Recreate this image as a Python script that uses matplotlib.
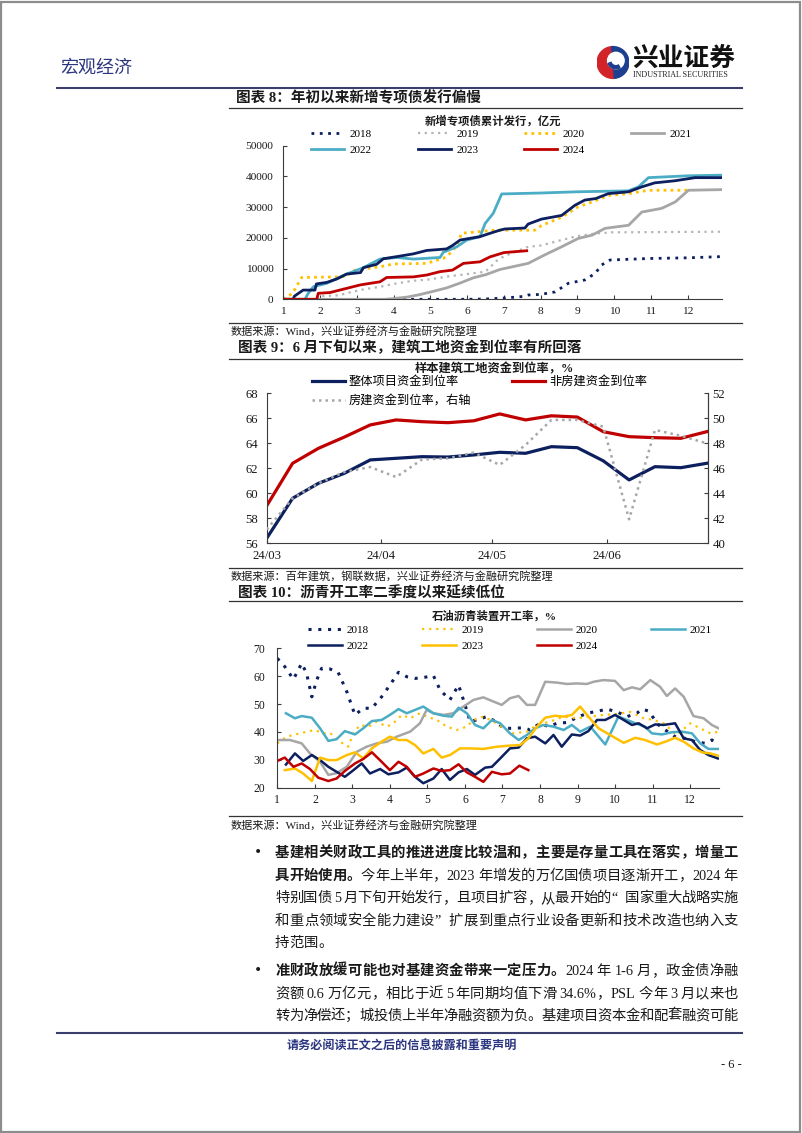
import matplotlib
matplotlib.use("Agg")
import matplotlib.pyplot as plt
import matplotlib.dates as mdates
from matplotlib.lines import Line2D
from matplotlib.patches import Wedge, Circle, Rectangle
import pandas as pd

plt.rcParams['font.family'] = ['Liberation Serif', 'Noto Sans CJK SC']
plt.rcParams['axes.unicode_minus'] = False

W, H = 802, 1133

NAVY = '#0c1f5e'
RED = '#c00000'
TEAL = '#4bacc6'
GOLD = '#ffc000'
GRAY = '#a6a6a6'
LGRAY = '#b4b4b4'
INK = '#1a1a1a'

# ---------------- chart 8: special bonds, cumulative (month position, 100m yuan)
zxz_2018_m = [3.8, 5.0, 6.0, 6.5, 7.0, 7.5, 7.66, 8.0, 8.39, 8.75, 9.2, 9.48, 9.66, 9.89, 11.0, 12.0, 12.92]
zxz_2018_v = [0, 0, 0, 100, 400, 900, 1400, 1600, 2400, 5200, 6300, 8400, 11200, 12800, 13300, 13500, 13900]
zxz_2019_m = [1.0, 1.9, 2.0, 2.5, 2.9, 3.2, 3.6, 4.0, 4.5, 5.0, 5.5, 6.0, 6.5, 6.8, 7.0, 7.66, 8.0, 8.57, 8.93, 9.48, 9.93, 12.92]
zxz_2019_v = [0, 0, 1000, 1300, 2500, 3300, 4000, 5000, 6000, 6500, 7500, 8200, 9000, 12500, 14000, 17100, 17500, 19300, 20400, 21400, 21800, 22000]
zxz_2020_m = [1.0, 1.25, 1.5, 2.6, 2.83, 2.92, 3.63, 4.0, 4.9, 5.2, 5.35, 5.53, 5.7, 5.85, 6.76, 7.84, 8.02, 8.57, 9.02, 9.4, 9.84, 10.39, 10.93, 12.02]
zxz_2020_v = [0, 1950, 7100, 7300, 8400, 9400, 10600, 11500, 11700, 12800, 13300, 14900, 17100, 21500, 22500, 22500, 24000, 26700, 30100, 31700, 33800, 34400, 35500, 35500]
zxz_2021_m = [1.0, 3.81, 4.36, 4.7, 5.08, 5.44, 5.81, 6.17, 6.5, 6.89, 7.66, 8.1, 8.57, 9.02, 9.4, 9.75, 10.39, 10.75, 11.29, 11.66, 12.02, 12.92]
zxz_2021_v = [0, 0, 700, 1500, 2600, 3700, 5300, 7000, 8000, 9700, 11700, 14400, 17100, 19800, 20900, 23100, 24100, 28400, 29600, 31700, 35500, 35700]
zxz_2022_m = [1.0, 1.59, 1.68, 1.82, 2.18, 2.72, 3.18, 3.63, 4.09, 4.54, 5.26, 5.35, 5.72, 5.99, 6.35, 6.49, 6.71, 6.94, 8.0, 9.0, 10.39, 10.66, 10.93, 12.0, 12.92]
zxz_2022_v = [0, 0, 2000, 4100, 5200, 8200, 10300, 13100, 13600, 13100, 13600, 15300, 17100, 19300, 20400, 24700, 28000, 34300, 34600, 35000, 35300, 36600, 39600, 40200, 40400]
zxz_2023_m = [1.0, 1.27, 1.3, 1.54, 1.86, 1.9, 2.18, 2.45, 2.72, 3.1, 3.18, 3.54, 3.72, 4.09, 4.54, 4.9, 5.44, 5.6, 5.81, 6.35, 6.6, 6.89, 7.03, 7.57, 7.66, 8.02, 8.57, 8.93, 9.2, 9.5, 9.84, 10.39, 10.75, 11.1, 11.66, 12.2, 12.92]
zxz_2023_v = [0, 0, 1000, 3000, 3000, 5000, 5500, 6600, 8200, 8700, 10300, 11400, 13200, 13900, 14800, 15900, 16400, 17500, 19300, 20400, 21400, 22500, 22900, 23200, 24500, 26100, 27300, 30600, 32300, 32800, 34400, 35000, 36600, 37900, 38600, 39600, 39600]
zxz_2024_m = [1.0, 1.91, 1.95, 2.27, 2.9, 3.1, 3.63, 3.81, 4.54, 4.9, 5.26, 5.6, 5.9, 6.35, 6.62, 6.89, 7.0, 7.3, 7.62]
zxz_2024_v = [0, 0, 1950, 2200, 4100, 4700, 5700, 7100, 7300, 7900, 9000, 9500, 11700, 12200, 13800, 14800, 15200, 15500, 15800]

# ---------------- chart 9: construction site funding rate (%)
site_dates = ["2024-03-01", "2024-03-08", "2024-03-15", "2024-03-22", "2024-03-29", "2024-04-05",
              "2024-04-12", "2024-04-19", "2024-04-26", "2024-05-03", "2024-05-10", "2024-05-17",
              "2024-05-24", "2024-05-31", "2024-06-07", "2024-06-14", "2024-06-21", "2024-06-28"]
site_total = [56.4, 59.6, 60.8, 61.6, 62.67, 62.8, 62.93, 62.9, 63.07, 63.28, 63.2, 63.73, 63.65, 62.6, 61.07, 62.13, 62.05, 62.4]
site_nonhouse = [59.0, 62.4, 63.6, 64.5, 65.47, 65.87, 65.73, 65.65, 65.8, 66.35, 65.87, 66.2, 66.1, 64.93, 64.53, 64.45, 64.4, 64.93]
site_house = [41.1, 43.6, 44.8, 45.7, 46.1, 45.3, 46.7, 46.8, 47.25, 46.27, 47.87, 49.87, 49.87, 49.33, 41.92, 49.07, 48.6, 48.0]

# ---------------- chart 10: asphalt plant operating rate (%)
asp_2018_m = [1.00, 1.20, 1.43, 1.65, 1.78, 1.92, 2.05, 2.18, 2.40, 2.62, 2.85, 3.07, 3.29, 3.52, 3.78, 4.00, 4.23, 4.45, 4.67, 4.89,
              5.16, 5.34, 5.60, 5.83, 5.96, 6.14, 6.36, 6.58, 6.80, 7.03, 7.29, 7.56, 7.74, 8.00, 8.23, 8.45, 8.72, 8.94, 9.25, 9.56,
              9.78, 10.05, 10.32, 10.58, 10.72, 10.89, 11.16, 11.34, 11.60, 11.87, 12.14, 12.41, 12.58, 12.72]
asp_2018_v = [66.4, 63.4, 58.9, 64.6, 61.0, 52.6, 58.6, 62.8, 62.6, 61.4, 54.5, 46.1, 48.5, 48.5, 52.6, 56.8, 61.4, 59.8, 59.2, 59.5,
              60.2, 55.0, 51.5, 56.8, 51.5, 43.7, 44.5, 45.5, 43.9, 41.3, 41.3, 41.5, 40.7, 43.1, 41.9, 43.1, 43.4, 44.9, 46.7, 47.5,
              48.2, 47.2, 45.5, 46.7, 48.2, 47.5, 42.5, 40.7, 38.3, 37.7, 36.5, 35.9, 37.1, 36.5]
asp_2019_m = [1.00, 1.25, 1.60, 2.00, 2.23, 2.40, 2.67, 2.89, 3.03, 3.20, 3.43, 3.65, 3.92, 4.09, 4.32, 4.54, 4.80, 4.98, 5.25, 5.52,
              5.78, 6.05, 6.23, 6.49, 6.76, 7.03, 7.29, 7.65, 7.92, 8.27, 8.63, 8.98, 9.34, 9.69, 10.05, 10.40, 10.76, 11.03, 11.29, 11.65,
              12.00, 12.27, 12.54, 12.76]
asp_2019_v = [35.9, 38.3, 39.5, 40.7, 39.5, 39.7, 36.5, 34.7, 39.5, 42.5, 41.9, 43.7, 41.9, 43.1, 46.1, 44.9, 46.7, 45.5, 44.3, 41.9,
              40.7, 41.9, 44.3, 45.5, 43.7, 41.3, 39.5, 40.1, 42.5, 43.7, 45.5, 44.9, 45.5, 46.1, 46.4, 47.2, 44.9, 44.3, 43.1, 38.9,
              43.1, 41.3, 39.5, 40.1]
asp_2020_m = [1.00, 1.34, 1.65, 1.87, 2.14, 2.36, 2.58, 2.85, 3.12, 3.38, 3.65, 3.92, 4.18, 4.54, 4.80, 4.98, 5.16, 5.43, 5.69, 5.96,
              6.23, 6.49, 6.76, 6.98, 7.20, 7.43, 7.65, 7.87, 8.14, 8.45, 8.72, 8.98, 9.25, 9.43, 9.69, 10.00, 10.23, 10.45, 10.67, 10.94,
              11.20, 11.38, 11.60, 11.83, 12.09, 12.36, 12.58, 12.76]
asp_2020_v = [37.1, 37.1, 35.9, 32.3, 29.3, 24.6, 25.2, 27.5, 32.9, 34.7, 35.9, 36.5, 38.3, 40.1, 43.1, 47.9, 46.7, 46.1, 46.7, 49.1,
              51.5, 52.4, 50.9, 49.7, 52.1, 52.9, 49.7, 49.7, 58.0, 57.7, 57.2, 57.4, 57.2, 58.0, 58.6, 58.3, 55.0, 56.0, 55.3, 58.6,
              56.2, 52.9, 55.6, 52.6, 45.7, 44.9, 42.5, 41.3]
asp_2021_m = [1.23, 1.47, 1.65, 1.92, 2.14, 2.36, 2.58, 2.80, 3.07, 3.29, 3.52, 3.78, 4.00, 4.23, 4.45, 4.67, 4.89, 5.16, 5.43, 5.65,
              5.83, 6.05, 6.27, 6.49, 6.72, 6.94, 7.20, 7.43, 7.65, 7.87, 8.09, 8.36, 8.63, 8.85, 9.07, 9.34, 9.74, 10.09, 10.32, 10.54,
              10.80, 10.98, 11.25, 11.52, 11.78, 12.05, 12.27, 12.49, 12.74]
asp_2021_v = [46.7, 44.9, 45.7, 45.1, 41.3, 36.8, 37.4, 40.3, 39.1, 41.3, 43.9, 44.3, 46.1, 48.2, 46.7, 47.9, 49.1, 46.7, 45.8, 45.5,
              48.7, 46.7, 42.5, 41.3, 44.3, 43.1, 39.5, 37.1, 38.9, 41.3, 42.5, 41.9, 40.7, 42.5, 40.1, 41.9, 35.5, 45.5, 44.3, 43.1,
              41.9, 39.5, 39.1, 39.9, 40.1, 39.5, 35.9, 33.9, 33.9]
asp_2022_m = [1.23, 1.47, 1.69, 1.92, 2.14, 2.36, 2.58, 2.80, 3.03, 3.25, 3.47, 3.74, 3.96, 4.23, 4.45, 4.67, 4.89, 5.16, 5.38, 5.60,
              5.83, 6.05, 6.27, 6.54, 6.72, 6.94, 7.20, 7.43, 7.65, 7.87, 8.14, 8.36, 8.58, 8.85, 9.07, 9.29, 9.52, 9.74, 10.00, 10.23,
              10.45, 10.63, 10.85, 11.07, 11.29, 11.60, 11.83, 12.05, 12.27, 12.49, 12.74]
asp_2022_v = [28.3, 32.3, 29.6, 31.7, 29.9, 27.5, 25.7, 23.9, 26.3, 28.7, 25.1, 26.7, 24.8, 25.5, 27.2, 23.9, 21.6, 23.3, 26.7, 22.8,
              25.5, 26.7, 24.6, 27.2, 27.5, 30.5, 34.1, 34.4, 37.7, 38.3, 35.9, 38.9, 34.7, 39.1, 38.7, 40.3, 44.3, 44.3, 46.1, 44.3,
              42.5, 43.1, 41.3, 42.7, 42.5, 43.1, 37.7, 37.1, 33.5, 31.7, 30.5]
asp_2023_m = [1.20, 1.47, 1.69, 1.92, 2.14, 2.36, 2.58, 2.85, 3.07, 3.29, 3.52, 3.78, 4.00, 4.23, 4.45, 4.67, 4.89, 5.16, 5.38, 5.60,
              5.87, 6.14, 6.49, 6.85, 7.20, 7.47, 7.69, 7.92, 8.14, 8.40, 8.63, 8.85, 9.07, 9.29, 9.56, 9.87, 10.23, 10.54, 10.80, 11.12,
              11.34, 11.60, 11.83, 12.09, 12.32, 12.54, 12.74]
asp_2023_v = [26.3, 26.9, 25.1, 22.4, 30.8, 29.9, 29.9, 31.7, 32.7, 30.5, 34.1, 36.5, 38.3, 37.1, 37.1, 35.3, 32.3, 33.9, 30.8, 31.7,
              34.1, 34.1, 33.9, 34.7, 35.1, 35.3, 37.7, 41.9, 45.1, 45.8, 45.5, 46.1, 49.1, 45.5, 41.3, 38.9, 36.1, 37.9, 37.1, 35.5,
              36.5, 37.9, 36.5, 34.1, 32.7, 32.3, 31.5]
asp_2024_m = [1.00, 1.20, 1.43, 1.65, 1.87, 2.09, 2.36, 2.58, 2.80, 3.07, 3.29, 3.52, 3.78, 4.00, 4.23, 4.45, 4.67, 4.89, 5.16, 5.38,
              5.60, 5.83, 6.05, 6.27, 6.49, 6.72, 6.98, 7.20, 7.45, 7.69]
asp_2024_v = [29.6, 30.8, 27.5, 28.7, 26.7, 23.6, 22.4, 23.3, 26.0, 28.7, 30.3, 32.7, 29.3, 26.3, 29.3, 27.5, 23.9, 25.1, 26.9, 26.0,
              26.3, 28.4, 25.5, 23.9, 22.1, 25.7, 24.8, 25.1, 27.9, 26.3]

months = list(range(1, 13))

fig = plt.figure(figsize=(W / 100, H / 100), dpi=100)
fig.patch.set_facecolor('white')
renderer = fig.canvas.get_renderer()


def fx(x):
    return x / W


def fy(y):
    return 1 - y / H


def box(x0, y0, x1, y1):
    return [fx(x0), fy(y1), (x1 - x0) / W, (y1 - y0) / H]


def hline(y, x0, x1, color='#333333', lw=0.9):
    fig.add_artist(Line2D([fx(x0), fx(x1)], [fy(y), fy(y)], color=color, lw=lw, transform=fig.transFigure))


def style(ax, size, ypad, xpad):
    ax.spines['top'].set_visible(False)
    ax.spines['right'].set_visible(False)
    for s in ['left', 'bottom', 'right']:
        ax.spines[s].set_color('#3c3c3c')
        ax.spines[s].set_linewidth(0.8)
    ax.tick_params(axis='both', direction='in', length=3, width=0.8, color='#3c3c3c', labelsize=size, labelcolor=INK)
    ax.tick_params(axis='y', pad=ypad)
    ax.tick_params(axis='x', pad=xpad)
    ax.set_facecolor('none')


# ---------------- page frame, header, footer
fig.add_artist(Rectangle((0.001, 0.001), 0.997, 0.997, transform=fig.transFigure, fill=False, ec='#8c8c8c', lw=1.6))
fig.text(fx(60), fy(68), '宏观经济', fontsize=13, color='#2b3580', va='center', ha='left', family=['Noto Sans CJK SC'])
hline(88, 57, 742, color='#3b3f6e', lw=1.5)

logo = fig.add_axes(box(597, 45, 629, 80))
logo.set_xlim(-1, 1)
logo.set_ylim(-1.1, 1.1)
logo.set_aspect('equal')
logo.axis('off')
logo.add_patch(Wedge((0, 0), 1, 95, 275, color='#d2232a'))
logo.add_patch(Wedge((0, 0), 1, 275, 95, color='#1d3f8f'))
logo.add_patch(Circle((0.18, 0.12), 0.52, color='white'))
logo.add_patch(Wedge((0.18, 0.12), 0.52, 200, 300, color='#1d3f8f', width=0.2))
fig.text(fx(632), fy(58), '兴业证券', fontsize=18.5, fontweight='bold', color='#111111', va='center', ha='left',
         family=['Noto Sans CJK SC'])
fig.text(fx(633), fy(75), 'INDUSTRIAL SECURITIES', fontsize=5.8, color='#222222', va='center', ha='left')

hline(1033, 57, 742, color='#3b3f6e', lw=1.5)
fig.text(fx(287), fy(1046), '请务必阅读正文之后的信息披露和重要声明', fontsize=8.7, fontweight='bold', color='#2b3580',
         va='center', ha='left', family=['Noto Sans CJK SC'])
fig.text(fx(742), fy(1065), '- 6 -', fontsize=9, color=INK, va='center', ha='right')

# ---------------- chart 8
fig.text(fx(236), fy(98), '图表 8：年初以来新增专项债发行偏慢', fontsize=10.5, fontweight='bold', color=INK, va='center', ha='left')
hline(108, 229, 742)
hline(322.5, 229, 742)
fig.text(fx(231), fy(331), '数据来源：Wind，兴业证券经济与金融研究院整理', fontsize=8, color=INK, va='center', ha='left')
fig.text(fx(493), fy(121), '新增专项债累计发行，亿元', fontsize=8.2, fontweight='bold', color=INK, va='center', ha='center')

ax1 = fig.add_axes(box(283.3, 145.7, 721.6, 299.3))
style(ax1, 8.2, 7, 5.5)
l18, = ax1.plot(zxz_2018_m, zxz_2018_v, color=NAVY, lw=2.0, ls=(0, (1, 2)), label='2018')
l19, = ax1.plot(zxz_2019_m, zxz_2019_v, color=LGRAY, lw=1.6, ls=(0, (1, 2)), label='2019')
l20, = ax1.plot(zxz_2020_m, zxz_2020_v, color=GOLD, lw=2.0, ls=(0, (1, 1.5)), label='2020')
l21, = ax1.plot(zxz_2021_m, zxz_2021_v, color=GRAY, lw=2.0, label='2021')
l22, = ax1.plot(zxz_2022_m, zxz_2022_v, color=TEAL, lw=2.0, label='2022')
l23, = ax1.plot(zxz_2023_m, zxz_2023_v, color=NAVY, lw=2.0, label='2023')
l24, = ax1.plot(zxz_2024_m, zxz_2024_v, color=RED, lw=2.0, label='2024')
ax1.set_xlim(1, 12.92)
ax1.set_ylim(0, 50000)
ax1.set_xticks(months)
ax1.set_yticks(range(0, 50001, 10000))
hs = [l18, l22, l19, l23, l20, l24, l21]
ax1.legend(hs, [h.get_label() for h in hs], ncol=4, loc='upper left', bbox_to_anchor=(fx(311), fy(129)),
           bbox_transform=fig.transFigure, frameon=False, fontsize=8, handlelength=3.0, handletextpad=0.5,
           columnspacing=4.1, labelspacing=0.55, borderpad=0, borderaxespad=0)

# ---------------- chart 9
fig.text(fx(238), fy(348), '图表 9：6 月下旬以来，建筑工地资金到位率有所回落', fontsize=10.5, fontweight='bold', color=INK,
         va='center', ha='left')
hline(359, 229, 742)
hline(568, 229, 742)
fig.text(fx(231), fy(577), '数据来源：百年建筑，钢联数据，兴业证券经济与金融研究院整理', fontsize=8, color=INK, va='center', ha='left')
fig.text(fx(494), fy(369.5), '样本建筑工地资金到位率，%', fontsize=8.8, fontweight='bold', color=INK, va='center', ha='center')

dates = pd.to_datetime(site_dates)
ax2 = fig.add_axes(box(266.7, 393.3, 708.3, 543.3))
style(ax2, 9.2, 6, 5)
ax2.spines['right'].set_visible(True)
p1, = ax2.plot(dates, site_total, color=NAVY, lw=2.3, label='整体项目资金到位率')
p2, = ax2.plot(dates, site_nonhouse, color=RED, lw=2.3, label='非房建资金到位率')
ax2.set_ylim(56, 68)
ax2.set_yticks(range(56, 69, 2))
ax2.set_xlim(dates[0], dates[-1] + pd.Timedelta(hours=10))
ax2.xaxis.set_major_locator(mdates.MonthLocator())
ax2.xaxis.set_major_formatter(mdates.DateFormatter('%y/%m'))
ax2r = ax2.twinx()
p3, = ax2r.plot(dates, site_house, color=GRAY, lw=1.8, ls=(0, (1, 1.6)), label='房建资金到位率，右轴')
ax2r.set_ylim(40, 52)
ax2r.set_yticks(range(40, 53, 2))
for s in ['top', 'left', 'bottom']:
    ax2r.spines[s].set_visible(False)
ax2r.spines['right'].set_color('#3c3c3c')
ax2r.spines['right'].set_linewidth(0.8)
ax2r.tick_params(axis='y', direction='in', length=3, width=0.8, color='#3c3c3c', labelsize=9.2, labelcolor=INK, pad=3)
hs2 = [p1, p3, p2]
ax2r.legend(hs2, [h.get_label() for h in hs2], ncol=2, loc='upper left', bbox_to_anchor=(fx(311.7), fy(376)),
            bbox_transform=fig.transFigure, frameon=False, fontsize=8.8, handlelength=2.7, handletextpad=0.3,
            columnspacing=3.4, labelspacing=0.6, borderpad=0, borderaxespad=0)

# ---------------- chart 10
fig.text(fx(238), fy(593), '图表 10：沥青开工率二季度以来延续低位', fontsize=10.5, fontweight='bold', color=INK, va='center', ha='left')
hline(601, 229, 742)
hline(816, 229, 742)
fig.text(fx(231), fy(825), '数据来源：Wind，兴业证券经济与金融研究院整理', fontsize=8, color=INK, va='center', ha='left')
fig.text(fx(494), fy(616), '石油沥青装置开工率，%', fontsize=8.2, fontweight='bold', color=INK, va='center', ha='center')

ax3 = fig.add_axes(box(277.3, 648.3, 719, 787.7))
style(ax3, 8.4, 8.5, 4.5)
a18, = ax3.plot(asp_2018_m, asp_2018_v, color=NAVY, lw=2.2, ls=(0, (1, 2.2)), label='2018')
a19, = ax3.plot(asp_2019_m, asp_2019_v, color=GOLD, lw=1.6, ls=(0, (1, 2.2)), label='2019')
a20, = ax3.plot(asp_2020_m, asp_2020_v, color=GRAY, lw=1.8, label='2020')
a21, = ax3.plot(asp_2021_m, asp_2021_v, color=TEAL, lw=1.8, label='2021')
a22, = ax3.plot(asp_2022_m, asp_2022_v, color=NAVY, lw=1.8, label='2022')
a23, = ax3.plot(asp_2023_m, asp_2023_v, color=GOLD, lw=1.8, label='2023')
a24, = ax3.plot(asp_2024_m, asp_2024_v, color=RED, lw=1.8, label='2024')
ax3.set_xlim(1, 12.77)
ax3.set_ylim(20, 70)
ax3.set_xticks(months)
ax3.set_yticks(range(20, 71, 10))
hs3 = [a18, a22, a19, a23, a20, a24, a21]
ax3.legend(hs3, [h.get_label() for h in hs3], ncol=4, loc='upper left', bbox_to_anchor=(fx(308), fy(625.5)),
           bbox_transform=fig.transFigure, frameon=False, fontsize=8, handlelength=3.05, handletextpad=0.45,
           columnspacing=4.8, labelspacing=0.5, borderpad=0, borderaxespad=0)

# ---------------- body text
BODY_FS = 10.3
EM = BODY_FS * 100 / 72


def tokens(s):
    out, buf = [], ''
    for ch in s:
        if ch.isascii() and ch != ' ':
            buf += ch
            continue
        if buf:
            out.append(buf)
            buf = ''
        out.append(ch)
    if buf:
        out.append(buf)
    return out


def put_line(yc, segs, justify=True, x0=275, x1=738):
    items = [(tok, bold) for text, bold in segs for tok in tokens(text)]
    base = fy(yc + 0.36 * EM)
    arts, widths = [], []
    for tok, bold in items:
        if tok == ' ':
            arts.append(None)
            widths.append(3.0)
            continue
        t = fig.text(0, base, tok, fontsize=BODY_FS, fontweight='bold' if bold else 'normal', color=INK,
                     va='baseline', ha='left')
        if tok.isascii():
            w = t.get_window_extent(renderer).width
        else:
            w = EM
        arts.append(t)
        widths.append(w)
    gap = (x1 - x0 - sum(widths)) / (len(items) - 1) if justify and len(items) > 1 else 0
    x = x0
    for t, w in zip(arts, widths):
        if t is not None:
            t.set_x(fx(x))
        x += w + gap


fig.text(fx(258), fy(852), '•', fontsize=10, color=INK, va='center', ha='center', family=['DejaVu Sans'])
put_line(852, [('基建相关财政工具的推进进度比较温和，主要是存量工具在落实，增量工', True)])
put_line(874.5, [('具开始使用。', True), ('今年上半年，2023 年增发的万亿国债项目逐渐开工，2024 年', False)])
put_line(897, [('特别国债 5 月下旬开始发行，且项目扩容，从最开始的“国家重大战略实施', False)])
put_line(919.5, [('和重点领域安全能力建设”扩展到重点行业设备更新和技术改造也纳入支', False)])
put_line(942, [('持范围。', False)], justify=False)

fig.text(fx(258), fy(970), '•', fontsize=10, color=INK, va='center', ha='center', family=['DejaVu Sans'])
put_line(970, [('准财政放缓可能也对基建资金带来一定压力。', True), ('2024 年 1-6 月，政金债净融', False)])
put_line(992.5, [('资额 0.6 万亿元，相比于近 5 年同期均值下滑 34.6%，PSL 今年 3 月以来也', False)])
put_line(1014.5, [('转为净偿还；城投债上半年净融资额为负。基建项目资本金和配套融资可能', False)])

fig.savefig('out.png', dpi=100, facecolor='white')
